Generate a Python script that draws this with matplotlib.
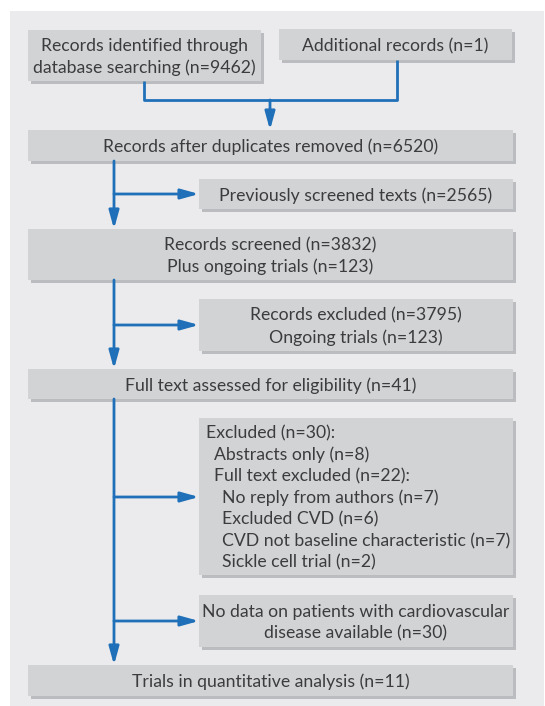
import matplotlib
matplotlib.use("Agg")
import matplotlib.pyplot as plt
from matplotlib.patches import Rectangle

W, H = 545, 706

# ---- content ----
n_identified = 9462
n_additional = 1
n_after_dup = 6520
n_prev_screened = 2565
n_screened = 3832
n_ongoing = 123
n_rec_excluded = 3795
n_fulltext = 41
n_excluded = 30
n_abstracts = 8
n_ft_excluded = 22
n_no_reply = 7
n_excl_cvd = 6
n_cvd_not_baseline = 7
n_sickle = 2
n_no_data = 30
n_trials = 11

box_texts = {
    "ident": [("Records identified through", 0), (f"database searching (n={n_identified})", 0)],
    "addl": [(f"Additional records (n={n_additional})", 0)],
    "dup": [(f"Records after duplicates removed (n={n_after_dup})", 0)],
    "prev": [(f"Previously screened texts (n={n_prev_screened})", 0)],
    "screened": [(f"Records screened (n={n_screened})", 0), (f"Plus ongoing trials (n={n_ongoing})", 0)],
    "recexcl": [(f"Records excluded (n={n_rec_excluded})", 0), (f"Ongoing trials (n={n_ongoing})", 0)],
    "fulltext": [(f"Full text assessed for eligibility (n={n_fulltext})", 0)],
    "excluded": [(f"Excluded (n={n_excluded}):", 0),
                 (f"Abstracts only (n={n_abstracts})", 1),
                 (f"Full text excluded (n={n_ft_excluded}):", 1),
                 (f"No reply from authors (n={n_no_reply})", 2),
                 (f"Excluded CVD (n={n_excl_cvd})", 2),
                 (f"CVD not baseline characteristic (n={n_cvd_not_baseline})", 2),
                 (f"Sickle cell trial (n={n_sickle})", 2)],
    "nodata": [("No data on patients with cardiovascular", 0), (f"disease available (n={n_no_data})", 0)],
    "trials": [(f"Trials in quantitative analysis (n={n_trials})", 0)],
}

# ---- layout (pixels) ----
boxes = {
    "ident": (28, 30, 261, 81),
    "addl": (279, 29, 512, 60),
    "dup": (28, 130, 513, 161),
    "prev": (199, 179, 513, 209),
    "screened": (28, 229, 513, 280),
    "recexcl": (199, 299, 513, 351),
    "fulltext": (28, 369, 513, 399),
    "excluded": (199, 418, 513, 575),
    "nodata": (199, 595, 513, 647),
    "trials": (28, 665, 513, 696),
}
left_aligned = {"excluded"}

PANEL = "#ebebee"
BOX = "#d2d3d5"
SHADOW = "#bbbcbf"
BLUE = "#1f70b8"
TXT = "#3c3c3e"
FAMILY = "Lato"
FS = 12.7
LINE = 21.5

fig = plt.figure(figsize=(W / 100, H / 100), dpi=100)
ax = fig.add_axes([0, 0, 1, 1])
ax.set_xlim(0, W)
ax.set_ylim(H, 0)
ax.axis("off")
fig.patch.set_facecolor("white")

ax.add_patch(Rectangle((10, 11), W - 11, H - 11, facecolor=PANEL, edgecolor="none", zorder=0))

for key, (x0, y0, x1, y1) in boxes.items():
    ax.add_patch(Rectangle((x0 + 2.5, y0 + 2.5), x1 - x0, y1 - y0, facecolor=SHADOW, edgecolor="none", zorder=1))
    ax.add_patch(Rectangle((x0, y0), x1 - x0, y1 - y0, facecolor=BOX, edgecolor="none", zorder=2))
    lines = box_texts[key]
    n = len(lines)
    cy = (y0 + y1) / 2
    for i, (t, ind) in enumerate(lines):
        y = cy + (i - (n - 1) / 2) * LINE
        if key in left_aligned:
            ax.text(x0 + 7 + ind * 8, y, t, ha="left", va="center_baseline", fontsize=FS,
                    color=TXT, family=FAMILY, zorder=3)
        else:
            ax.text((x0 + x1) / 2, y, t, ha="center", va="center_baseline", fontsize=FS,
                    color=TXT, family=FAMILY, zorder=3)

LW = 2.0

def seg(xs, ys):
    ax.plot(xs, ys, color=BLUE, lw=LW, solid_capstyle="butt", zorder=2)

def arrow(x0, y0, x1, y1):
    ax.annotate("", xy=(x1, y1), xytext=(x0, y0),
                arrowprops=dict(arrowstyle="-|>,head_length=0.9,head_width=0.25",
                                color=BLUE, lw=LW, shrinkA=0, shrinkB=0, mutation_scale=12),
                zorder=4)

# top merge
seg([144, 144, 397, 397], [81, 100, 100, 60])
arrow(270, 100, 270, 130)

mx = 114
arrow(mx, 161, mx, 229)
arrow(mx, 194, 199, 194)
arrow(mx, 280, mx, 369)
arrow(mx, 325, 199, 325)
arrow(mx, 399, mx, 665)
arrow(mx, 497, 199, 497)
arrow(mx, 621, 199, 621)

fig.savefig("out.png", dpi=100, facecolor="white")
